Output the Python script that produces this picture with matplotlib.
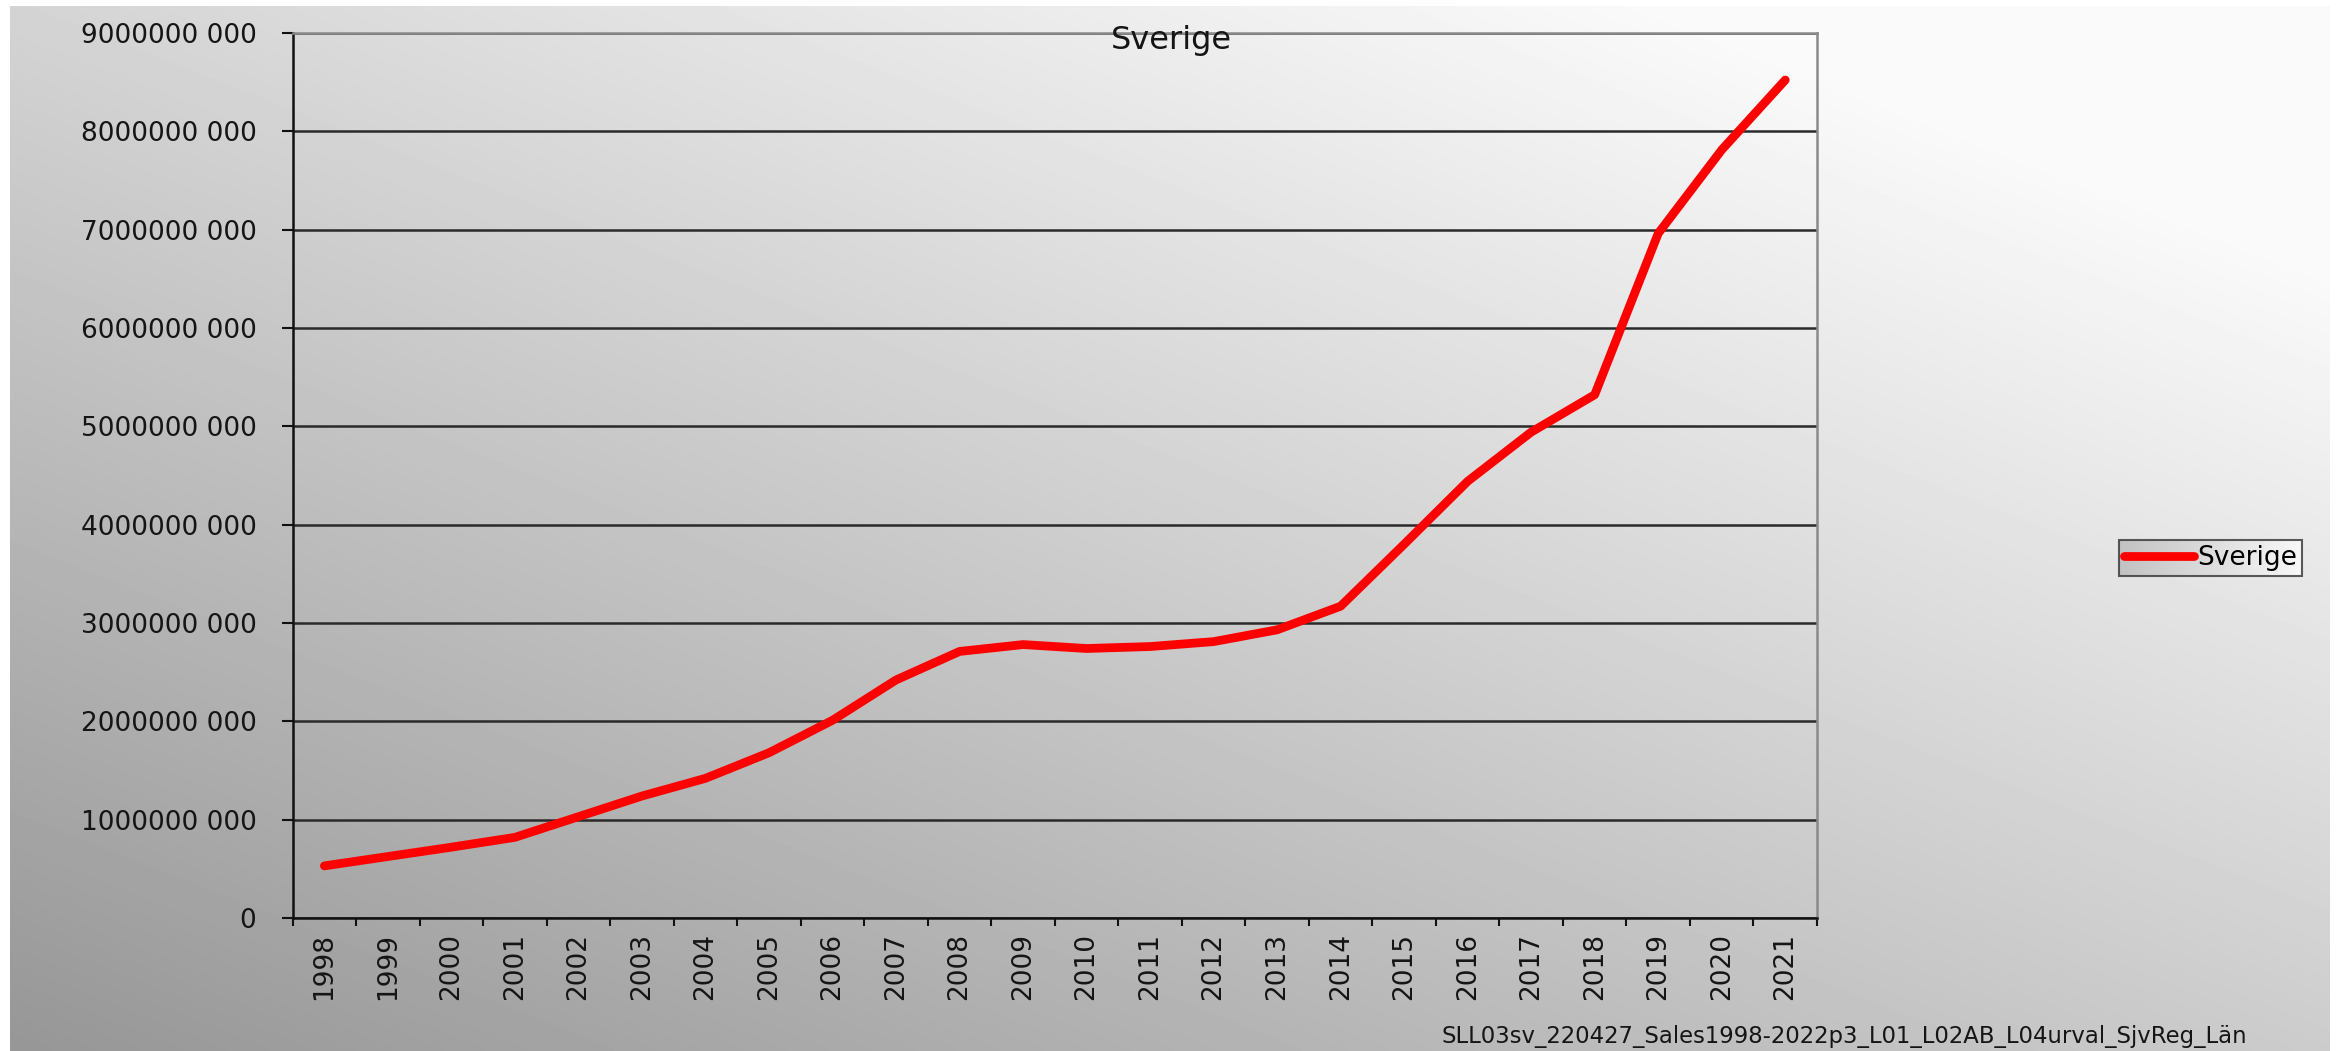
import matplotlib
matplotlib.use('Agg')
import matplotlib.pyplot as plt
import numpy as np

# försäljning Sverige, miljoner kr per år
years = ['1998', '1999', '2000', '2001', '2002', '2003', '2004', '2005',
         '2006', '2007', '2008', '2009', '2010', '2011', '2012', '2013',
         '2014', '2015', '2016', '2017', '2018', '2019', '2020', '2021']
sales_mkr = [530, 625, 720, 820, 1030, 1240, 1420, 1680,
             2010, 2420, 2710, 2780, 2740, 2760, 2810, 2930,
             3170, 3800, 4440, 4940, 5320, 6960, 7810, 8520]

ytick_values = [0, 1e9, 2e9, 3e9, 4e9, 5e9, 6e9, 7e9, 8e9, 9e9]
ytick_labels = ['0', '1000000 000', '2000000 000', '3000000 000', '4000000 000',
                '5000000 000', '6000000 000', '7000000 000', '8000000 000',
                '9000000 000']

series_name = 'Sverige'
footer = 'SLL03sv_220427_Sales1998-2022p3_L01_L02AB_L04urval_SjvReg_Län'

W, H = 2341, 1051
plt.rcParams['font.family'] = ['DejaVu Sans']
fig = plt.figure(figsize=(W / 100, H / 100), dpi=100, facecolor='white')

# diagonal grey gradient behind everything
bg = fig.add_axes([10 / W, 0, 2320 / W, 1045 / H], zorder=-1)
gx, gy = np.meshgrid(np.linspace(0, 1, 400), np.linspace(0, 1, 200))
shade = np.clip(0.59 + 0.21 * gx + 0.24 * gy, 0, 0.98)
bg.imshow(shade, cmap='gray', vmin=0, vmax=1, origin='lower', aspect='auto',
          extent=[0, 1, 0, 1], interpolation='bilinear')
bg.axis('off')

ax = fig.add_axes([292.6 / W, 1 - 918 / H, (1817 - 292.6) / W, (918 - 32.8) / H])
ax.patch.set_visible(False)

x = np.arange(len(years))
values = np.array(sales_mkr) * 1e6
line, = ax.plot(x, values, color='#ff0000', lw=6.3, solid_capstyle='round',
                solid_joinstyle='round', zorder=3)

ax.set_xlim(-0.5, len(years) - 0.5)
ax.set_ylim(0, 9e9)
ax.set_yticks(ytick_values)
ax.set_yticklabels(ytick_labels, fontsize=19, color='#151515')
ax.yaxis.grid(True, color='#2a2a2a', lw=1.8, zorder=1)

# ticks between categories, labels centred on them
ax.set_xticks(np.arange(-0.5, len(years), 1))
ax.set_xticklabels([])
ax.set_xticks(x, minor=True)
ax.set_xticklabels(years, minor=True, rotation=90, fontsize=19, color='#151515')
ax.tick_params(axis='x', which='major', length=6, width=1.5, color='#111111')
ax.tick_params(axis='x', which='minor', length=0, pad=11)
ax.tick_params(axis='y', length=8, width=1.5, color='#111111', pad=18)

for side in ['left', 'bottom']:
    ax.spines[side].set_color('#111111')
    ax.spines[side].set_linewidth(1.8)
for side in ['top', 'right']:
    ax.spines[side].set_color('#8a8a8a')
    ax.spines[side].set_linewidth(1.8)

fig.text(1171 / W, 1 - 40 / H, series_name, ha='center', va='center',
         fontsize=23, color='#151515')
fig.text(2247 / W, 1 - 1036 / H, footer, ha='right', va='center',
         fontsize=16.4, color='#151515')

leg = fig.legend([line], [series_name], loc='center left',
                 bbox_to_anchor=(2119 / W, 1 - 558 / H), bbox_transform=fig.transFigure,
                 frameon=True, fancybox=False, edgecolor='#333333', facecolor='none',
                 fontsize=19, handlelength=2.65, handletextpad=0.1, borderpad=0.2,
                 borderaxespad=0)
leg.get_frame().set_linewidth(1.5)
leg.set_zorder(5)

# light gradient fill inside the legend box
fig.canvas.draw()
bb = leg.get_frame().get_window_extent().transformed(fig.transFigure.inverted())
lg = fig.add_axes([bb.x0, bb.y0, bb.width, bb.height], zorder=1)
lg.imshow(np.linspace(0.76, 0.97, 100)[None, :], cmap='gray', vmin=0, vmax=1,
          aspect='auto', extent=[0, 1, 0, 1])
lg.axis('off')

fig.savefig('out.png', dpi=100, facecolor=fig.get_facecolor())
